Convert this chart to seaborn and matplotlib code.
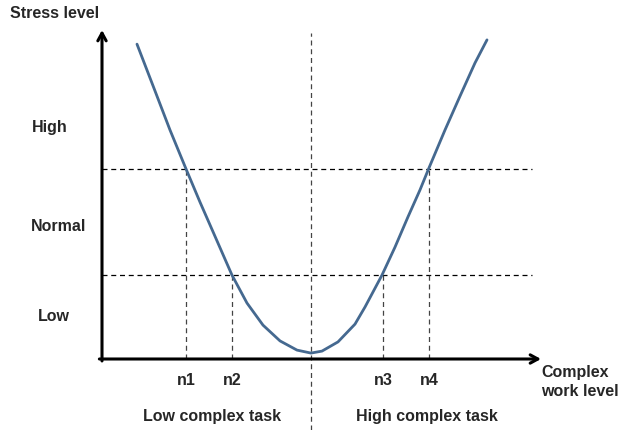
import matplotlib
matplotlib.use("Agg")
import matplotlib.pyplot as plt
import seaborn as sns
import pandas as pd

sns.set_style("white")
plt.rcParams['font.family'] = ['Liberation Sans', 'DejaVu Sans']

# curve (work level 0-100, stress 0-100)
work_level = [7.97, 12.07, 15.49, 19.13, 22.32, 25.51, 29.61, 33.03, 36.67, 40.55, 44.42,
              47.61, 50.11, 53.76, 57.63, 59.91, 63.78, 66.74, 69.70, 72.44, 74.49,
              78.13, 81.55, 84.97, 87.70]
stress = [95.7, 81.5, 69.6, 57.8, 47.7, 38.0, 25.5, 17.0, 10.3, 5.5, 2.7,
          1.8, 2.4, 5.2, 10.6, 15.8, 25.5, 34.0, 43.2, 51.4, 58.1,
          69.6, 79.9, 90.0, 97.0]

high_line = 57.8
low_line = 25.5
n_pos = [19.1, 29.6, 64.0, 74.5]
n_labels = ["n1", "n2", "n3", "n4"]
n_levels = [high_line, low_line, low_line, high_line]
mid_x = 47.6

level_labels = ["High", "Normal", "Low"]
level_y = [70.5, 40.4, 12.8]
level_x = [-11.8, -10.0, -10.9]

task_labels = ["Low complex task", "High complex task"]
task_x = [25.1, 74.0]

df = pd.DataFrame({"work": work_level, "stress": stress})

fig = plt.figure(figsize=(6.29, 4.30), dpi=100)
ax = fig.add_axes([102 / 629, 71 / 430, 439 / 629, 329 / 430])
ax.set_xlim(0, 100)
ax.set_ylim(0, 100)
ax.axis("off")

# dashed guide lines
for yv in [high_line, low_line]:
    ax.plot([0, 97.9], [yv, yv], color="black", lw=0.9, ls=(0, (4, 3)), clip_on=False)
for xv, yv in zip(n_pos, n_levels):
    ax.plot([xv, xv], [0, yv], color="#444444", lw=0.9, ls=(0, (4, 3)), clip_on=False)
ax.plot([mid_x, mid_x], [-21.6, 99], color="#444444", lw=0.9, ls=(0, (4, 3)), clip_on=False)

sns.lineplot(data=df, x="work", y="stress", sort=False, color="#456990", lw=2, ax=ax)
ax.lines[-1].set_clip_on(False)
ax.lines[-1].set_solid_joinstyle("round")

# axis arrows
arrow = dict(arrowstyle="->,head_length=0.55,head_width=0.3", lw=2.2, color="black", shrinkA=0, shrinkB=0)
ax.annotate("", xy=(0, 100), xytext=(0, -0.6), arrowprops=arrow, annotation_clip=False)
ax.annotate("", xy=(100, 0), xytext=(-0.6, 0), arrowprops=arrow, annotation_clip=False)

fs = 11.5
ax.text(-10.7, 104.9, "Stress level", ha="center", va="center", fontsize=fs, fontweight="bold")
for lab, xv, yv in zip(level_labels, level_x, level_y):
    ax.text(xv, yv, lab, ha="center", va="center", fontsize=fs, fontweight="bold")
for lab, xv in zip(n_labels, n_pos):
    ax.text(xv, -6.4, lab, ha="center", va="center", fontsize=fs, fontweight="bold")
for lab, xv in zip(task_labels, task_x):
    ax.text(xv, -17.6, lab, ha="center", va="center", fontsize=fs, fontweight="bold")
ax.text(100, -7.0, "Complex\nwork level", ha="left", va="center", fontsize=fs,
        fontweight="bold", linespacing=1.35)

fig.savefig("out.png", dpi=100)
